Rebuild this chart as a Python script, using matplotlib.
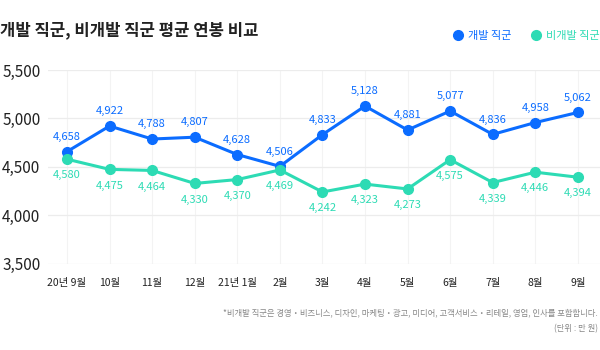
import matplotlib
matplotlib.use("Agg")
import matplotlib.pyplot as plt

plt.rcParams['font.family'] = ['Noto Sans CJK KR', 'DejaVu Sans']

months = ["20년 9월", "10월", "11월", "12월", "21년 1월", "2월", "3월", "4월", "5월", "6월", "7월", "8월", "9월"]
dev = [4658, 4922, 4788, 4807, 4628, 4506, 4833, 5128, 4881, 5077, 4836, 4958, 5062]
nondev = [4580, 4475, 4464, 4330, 4370, 4469, 4242, 4323, 4273, 4575, 4339, 4446, 4394]
yticks = [3500, 4000, 4500, 5000, 5500]
series_names = ["개발 직군", "비개발 직군"]

blue = "#0b6cff"
teal = "#2ddbb4"

fig = plt.figure(figsize=(6, 3.5), dpi=100)
ax = fig.add_axes([0.08, 0.246, 0.92, 0.554])
x = list(range(len(months)))

for xi in x:
    ax.axvline(xi, color="#f3f3f3", lw=0.8, zorder=0)
for yv in yticks:
    ax.axhline(yv, color="#ececec", lw=0.9, zorder=0)

ax.plot(x, dev, color=blue, lw=2.2, marker="o", ms=7, clip_on=False, zorder=3, label=series_names[0])
ax.plot(x, nondev, color=teal, lw=2.2, marker="o", ms=7, clip_on=False, zorder=3, label=series_names[1])

for xi, v in zip(x, dev):
    ax.annotate(f"{v:,}", (xi, v), xytext=(0, 7), textcoords="offset points",
                ha="center", va="bottom", color=blue, fontsize=8)
for xi, v in zip(x, nondev):
    ax.annotate(f"{v:,}", (xi, v), xytext=(0, -8), textcoords="offset points",
                ha="center", va="top", color=teal, fontsize=8)

ax.set_xlim(-0.446, 12.52)
ax.set_ylim(3500, 5500)
ax.set_yticks(yticks)
ax.set_yticklabels([f"{v:,}" for v in yticks], fontsize=11, color="#222222", ha="left")
ax.set_xticks(x)
ax.set_xticklabels(months, fontsize=7.5, color="#222222")
ax.tick_params(length=0)
ax.tick_params(axis="y", pad=33)
ax.tick_params(axis="x", pad=10)
for s in ax.spines.values():
    s.set_visible(False)

fig.text(0.0, 0.915, "개발 직군, 비개발 직군 평균 연봉 비교", fontsize=12, fontweight="bold",
         color="#222222", ha="left", va="center")

leg = ax.legend(loc="center right", bbox_to_anchor=(1.0, 1.175), ncol=2, frameon=False,
                fontsize=8, handlelength=0.8, handletextpad=0.5, columnspacing=1.8,
                markerscale=1.0, borderaxespad=0, borderpad=0)
for h in leg.legend_handles:
    h.set_linestyle("none")
for t, c in zip(leg.get_texts(), [blue, teal]):
    t.set_color(c)

fig.text(0.997, 0.105, "*비개발 직군은 경영・비즈니스, 디자인, 마케팅・광고, 미디어, 고객서비스・리테일, 영업, 인사를 포함합니다.",
         fontsize=6, color="#888888", ha="right", va="center")
fig.text(0.997, 0.062, "(단위 : 만 원)", fontsize=6, color="#888888", ha="right", va="center")

fig.savefig("out.png", dpi=100, facecolor="white")
